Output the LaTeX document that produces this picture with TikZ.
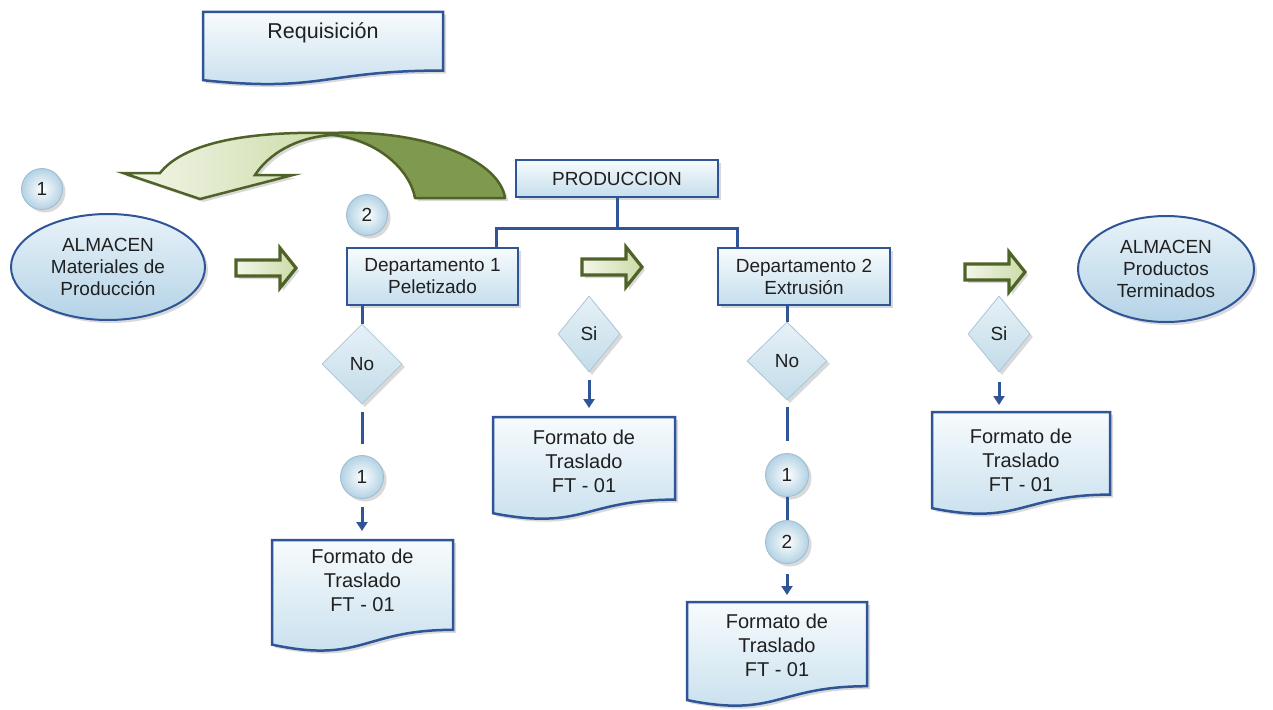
\documentclass[tikz,border=0pt]{standalone}
\usepackage{fontspec}
\setmainfont{Liberation Sans}
\usetikzlibrary{shapes.geometric,arrows.meta,shadows}
\definecolor{txt}{HTML}{202020}
\definecolor{bline}{HTML}{2F5597}
\definecolor{boxtop}{HTML}{F7FBFD}
\definecolor{boxbot}{HTML}{C5DEED}
\definecolor{elltop}{HTML}{E8F2F8}
\definecolor{ellbot}{HTML}{B4D3E7}
\definecolor{diatop}{HTML}{E6F1F7}
\definecolor{diabot}{HTML}{C3DCE9}
\definecolor{diadraw}{HTML}{A9C6D8}
\definecolor{circout}{HTML}{B3D2E4}
\definecolor{circdraw}{HTML}{9CBBD0}
\definecolor{grdraw}{HTML}{4F6228}
\definecolor{grlight}{HTML}{F3F6EA}
\definecolor{grmid}{HTML}{CCDBA8}
\definecolor{grdark}{HTML}{7F9A4F}
\tikzset{
  every node/.style={text=txt, font=\fontsize{19}{22}\selectfont, align=center},
  shad/.style={drop shadow={shadow xshift=3pt, shadow yshift=-3pt, opacity=0.25, fill=black!60}},
  boxstyle/.style={rectangle, draw=bline, line width=2.5pt, top color=boxtop, bottom color=boxbot, inner sep=0pt, shad},
  ellstyle/.style={ellipse, draw=bline, line width=2pt, top color=elltop, bottom color=ellbot, inner sep=0pt, shad},
  diastyle/.style={diamond, draw=diadraw, line width=0.8pt, top color=diatop, bottom color=diabot, inner sep=0pt, shad},
  circstyle/.style={circle, draw=circdraw, line width=0.8pt, inner color=white, outer color=circout, minimum size=41pt, inner sep=0pt, shad},
  docfill/.style={draw=bline, line width=2.5pt, top color=boxtop, bottom color=boxbot, shad},
  doctext/.style={font=\fontsize{20}{24}\selectfont, inner sep=0pt},
  conn/.style={draw=bline, line width=3pt},
  arr/.style={conn, -{Triangle[length=9pt,width=11pt]}},
  blockarr/.style={draw=grdraw, line width=3.2pt, left color=grlight, right color=grmid, line join=miter, shad},
}
\newcommand\docshape[7]{%
  \path[docfill] (#2,#3) -- ({#2+#4},#3) -- ({#2+#4},{#3+0.802*#5})
    .. controls ({#2+0.5*#4},{#3+0.802*#5}) and ({#2+0.5*#4},{#3+1.107*#5}) .. (#2,{#3+0.934*#5}) -- cycle;
  \node[doctext] (#1) at ({#2+0.5*#4},#7) {#6};
  \coordinate (#1-n) at ({#2+0.5*#4},#3);
}
\newcommand\blockarrow[3]{%
  \path[blockarr] (#2,{#3-8}) -- ({#2+44},{#3-8}) -- ({#2+44},{#3-20}) -- ({#2+60},#3)
    -- ({#2+44},{#3+20}) -- ({#2+44},{#3+8}) -- (#2,{#3+8}) -- cycle;
  \coordinate (#1) at ({#2+30},#3);
}
\begin{document}
\begin{tikzpicture}[x=1pt,y=-1pt]
\useasboundingbox (0,0) rectangle (1273,709);

% Requisicion document
\docshape{req}{203}{12}{240}{73}{\fontsize{21.5}{24}\selectfont Requisición}{33}

% curved arrow (back part)
\path[draw=grdraw, line width=2.5pt, fill=grdark, line join=round, shad]
  (330,133) .. controls (430,129) and (500,162) .. (505,198) -- (415,198)
  .. controls (410,170) and (378,140) .. (333,135) -- cycle;
% curved arrow (front part)
\path[draw=grdraw, line width=2.5pt, left color=grlight, right color=grmid, line join=miter, shad]
  (330,133) .. controls (240,131) and (182,145) .. (160,173) -- (123,173) -- (200,199)
  -- (293,175) -- (255,175) .. controls (268,155) and (295,137) .. (333,135) -- cycle;

% circles top
\node[circstyle] (c1top) at (42,189) {1};
\node[circstyle] (c2top) at (367,215) {2};

% ellipses
\node[ellstyle, minimum width=194pt, minimum height=106pt] (alm1) at (108,267) {ALMACEN\\Materiales de\\Producción};
\node[ellstyle, minimum width=176pt, minimum height=106pt] (alm2) at (1166,269) {ALMACEN\\Productos\\Terminados};

% boxes
\node[boxstyle, minimum width=202pt, minimum height=37pt] (prod) at (617,178.5) {PRODUCCION};
\node[boxstyle, minimum width=171pt, minimum height=57pt] (dep1) at (432.5,276.5) {Departamento 1\\Peletizado};
\node[boxstyle, minimum width=172pt, minimum height=57pt] (dep2) at (804,276.5) {Departamento 2\\Extrusión};

% tree
\coordinate (jl) at (496,228);
\coordinate (jr) at (737,228);
\draw[conn] (prod.south) -- (prod.south |- jl);
\draw[conn, line join=miter] (jl |- dep1.north) -- (jl) -- (jr) -- (jr |- dep2.north);

% block arrows
\blockarrow{ba1}{236}{268}
\blockarrow{ba2}{582}{267}
\blockarrow{ba3}{965}{272}

% diamonds
\node[diastyle, minimum width=80pt, minimum height=80pt] (dno1) at (362,364) {No};
\node[diastyle, minimum width=62pt, minimum height=76pt] (dsi1) at (589,334) {Si};
\node[diastyle, minimum width=80pt, minimum height=78pt] (dno2) at (787,361) {No};
\node[diastyle, minimum width=62pt, minimum height=76pt] (dsi2) at (999,334) {Si};

% connector circles
\node[circstyle, minimum size=43pt] (c1a) at (362,477) {1};
\node[circstyle, minimum size=43pt] (c1b) at (787,475) {1};
\node[circstyle, minimum size=43pt] (c2b) at (787,542) {2};

% documents
\docshape{f1}{272}{540}{181}{112}{Formato de\\Traslado\\FT - 01}{580}
\docshape{f2}{493}{417}{182}{103}{Formato de\\Traslado\\FT - 01}{461}
\docshape{f3}{687}{602}{180}{105}{Formato de\\Traslado\\FT - 01}{645}
\docshape{f4}{932}{412}{178}{103}{Formato de\\Traslado\\FT - 01}{460}

% connectors
\draw[conn] (dno1.north |- dep1.south) -- (dno1.north);
\draw[conn] (dno2.north |- dep2.south) -- (dno2.north);
\draw[conn, shorten <=8pt, shorten >=11pt] (dno1.south) -- (c1a.north);
\draw[conn, shorten <=7pt, shorten >=12pt] (dno2.south) -- (c1b.north);
\draw[conn] (c1b.south) -- (c2b.north);
\draw[arr, shorten <=8pt, shorten >=9pt] (c1a.south) -- (c1a.south |- f1-n);
\draw[arr, shorten <=8pt, shorten >=9pt] (dsi1.south) -- (dsi1.south |- f2-n);
\draw[arr, shorten <=10pt, shorten >=7pt] (c2b.south) -- (c2b.south |- f3-n);
\draw[arr, shorten <=10pt, shorten >=7pt] (dsi2.south) -- (dsi2.south |- f4-n);
\end{tikzpicture}
\end{document}
